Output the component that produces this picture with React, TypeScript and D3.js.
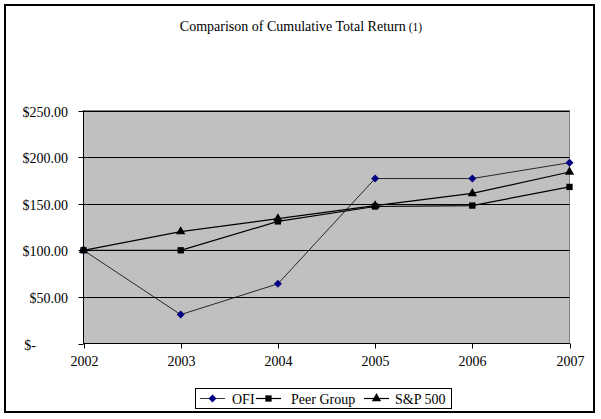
import { useEffect, useRef } from 'react'
import * as d3 from 'd3'

const years = ['2002', '2003', '2004', '2005', '2006', '2007']
const ofi = [100, 31, 64, 177, 177, 194]
const peerGroup = [100, 100, 131, 147, 148, 168]
const sp500 = [100, 120, 134, 148, 161, 184]
const yTicks = [0, 50, 100, 150, 200, 250]
const yTickLabels = ['$-', '$50.00', '$100.00', '$150.00', '$200.00', '$250.00']

const seriesList = [
  { name: 'OFI', values: ofi, color: '#000080', marker: 'diamond' },
  { name: 'Peer Group', values: peerGroup, color: '#000000', marker: 'square' },
  { name: 'S&P 500', values: sp500, color: '#000000', marker: 'triangle' },
]

const FONT = '"Liberation Serif", "Times New Roman", serif'

// plain diamond, as wide as it is tall
const diamondPath = (r: number) => `M0,${-r}L${r},0L0,${r}L${-r},0Z`

export default function App() {
  const svgRef = useRef<SVGSVGElement>(null)

  useEffect(() => {
    if (!svgRef.current) return
    const svg = d3.select(svgRef.current)
    svg.selectAll('*').remove()

    const width = 601
    const height = 419
    const plot = { left: 83.5, right: 569.5, top: 110.5, bottom: 343.5 }

    svg.attr('width', width).attr('height', height)

    svg.append('rect')
      .attr('width', width).attr('height', height)
      .attr('fill', '#fff')

    // outer chart border
    svg.append('rect')
      .attr('x', 5).attr('y', 5)
      .attr('width', 589).attr('height', 407)
      .attr('fill', 'none').attr('stroke', '#000').attr('stroke-width', 2)

    // title
    const title = svg.append('text')
      .attr('x', 301).attr('y', 31)
      .attr('text-anchor', 'middle')
      .style('font-family', FONT)
      .style('font-size', '14px')
    title.append('tspan').text('Comparison of Cumulative Total Return')
    title.append('tspan').attr('dx', 3).style('font-size', '11.5px').text('(1)')

    const x = d3.scalePoint<string>()
      .domain(years)
      .range([plot.left, plot.right])

    const y = d3.scaleLinear()
      .domain([0, 250])
      .range([plot.bottom, plot.top])

    const g = svg.append('g')

    // plot area
    g.append('rect')
      .attr('x', plot.left).attr('y', plot.top)
      .attr('width', plot.right - plot.left).attr('height', plot.bottom - plot.top)
      .attr('fill', '#c0c0c0').attr('stroke', '#808080').attr('stroke-width', 1)

    // gridlines
    yTicks.filter(t => t > 0).forEach(t => {
      g.append('line')
        .attr('x1', plot.left).attr('x2', plot.right)
        .attr('y1', Math.round(y(t)) + 0.5).attr('y2', Math.round(y(t)) + 0.5)
        .attr('stroke', '#000').attr('stroke-width', 1)
    })

    // axes
    g.append('line')
      .attr('x1', plot.left).attr('x2', plot.left)
      .attr('y1', plot.top).attr('y2', plot.bottom)
      .attr('stroke', '#000')
    g.append('line')
      .attr('x1', plot.left).attr('x2', plot.right)
      .attr('y1', plot.bottom).attr('y2', plot.bottom)
      .attr('stroke', '#000')

    yTicks.forEach((t, i) => {
      const yy = Math.round(y(t)) + 0.5
      g.append('line')
        .attr('x1', plot.left - 5).attr('x2', plot.left)
        .attr('y1', yy).attr('y2', yy)
        .attr('stroke', '#000')
      g.append('text')
        .attr('x', t === 0 ? 36 : 68)
        .attr('y', yy + 5)
        .attr('text-anchor', 'end')
        .style('font-family', FONT)
        .style('font-size', '14px')
        .text(yTickLabels[i])
    })

    years.forEach(yr => {
      const xx = Math.round(x(yr)!) + 0.5
      g.append('line')
        .attr('x1', xx).attr('x2', xx)
        .attr('y1', plot.bottom).attr('y2', plot.bottom + 5)
        .attr('stroke', '#000')
      g.append('text')
        .attr('x', xx)
        .attr('y', 366)
        .attr('text-anchor', 'middle')
        .style('font-family', FONT)
        .style('font-size', '14px')
        .text(yr)
    })

    const markerPath = (m: string) =>
      m === 'diamond' ? diamondPath(4)
        : m === 'square' ? d3.symbol(d3.symbolSquare, 40)()!
          : d3.symbol(d3.symbolTriangle, 38)()!

    const line = d3.line<number>()
      .x((_, i) => x(years[i])!)
      .y(d => y(d))

    seriesList.forEach(s => {
      g.append('path')
        .attr('d', line(s.values)!)
        .attr('fill', 'none')
        .attr('stroke', '#000')
        .attr('stroke-width', s.marker === 'diamond' ? 0.8 : 1.2)
    })

    seriesList.forEach(s => {
      s.values.forEach((v, i) => {
        g.append('path')
          .attr('d', markerPath(s.marker))
          .attr('transform', `translate(${x(years[i])},${y(v)})`)
          .attr('fill', s.color)
      })
    })

    // legend
    const legend = svg.append('g')
    legend.append('rect')
      .attr('x', 195.5).attr('y', 388.5)
      .attr('width', 256).attr('height', 20)
      .attr('fill', '#fff').attr('stroke', '#000')

    const entries = [
      { x0: 200, tx: 232, s: seriesList[0] },
      { x0: 256, tx: 291, s: seriesList[1] },
      { x0: 364, tx: 395, s: seriesList[2] },
    ]
    entries.forEach(({ x0, tx, s }) => {
      legend.append('line')
        .attr('x1', x0).attr('x2', x0 + 25)
        .attr('y1', 398.5).attr('y2', 398.5)
        .attr('stroke', '#000').attr('stroke-width', s.marker === 'diamond' ? 0.8 : 1.2)
      legend.append('path')
        .attr('d', markerPath(s.marker))
        .attr('transform', `translate(${x0 + 12.5},398.5)`)
        .attr('fill', s.color)
      legend.append('text')
        .attr('x', tx)
        .attr('y', 403.5)
        .style('font-family', FONT)
        .style('font-size', '14px')
        .text(s.name)
    })
  }, [])

  return (
    <svg
      ref={svgRef}
      style={{ position: 'absolute', left: 0, top: 0, display: 'block' }}
    />
  )
}
